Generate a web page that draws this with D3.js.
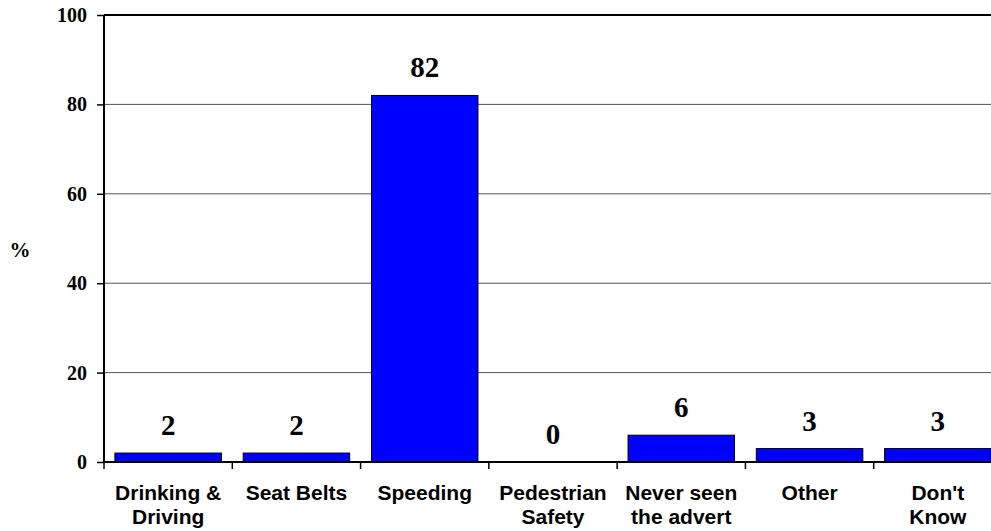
<!DOCTYPE html>
<html>
<head>
<meta charset="UTF-8" />
<title>Advert recall</title>
<script src="https://d3js.org/d3.v7.min.js"></script>
<style>
body { margin: 0; background: #fff; }
.val { font-family: "Liberation Serif", "Times New Roman", serif; font-weight: bold; font-size: 29px; }
.ytick text { font-family: "Liberation Serif", "Times New Roman", serif; font-weight: bold; font-size: 20px; }
.cat { font-family: "Liberation Sans", Arial, sans-serif; font-weight: bold; font-size: 21px; }
</style>
</head>
<body>
<div id="chart"></div>
<script>
var categories = [
    ["Drinking &", "Driving"],
    ["Seat Belts"],
    ["Speeding"],
    ["Pedestrian", "Safety"],
    ["Never seen", "the advert"],
    ["Other"],
    ["Don't", "Know"]
];
var values = [2, 2, 82, 0, 6, 3, 3];
var yTicks = [0, 20, 40, 60, 80, 100];

var width = 991, height = 531;
var plotLeft = 104, plotRight = 1002, plotTop = 15, plotBottom = 462;

var svg = d3.select('#chart')
    .append('svg')
    .attr('width', width)
    .attr('height', height);

var x = d3.scaleBand()
    .domain(d3.range(values.length))
    .range([plotLeft, plotRight])
    .paddingInner(0.17)
    .paddingOuter(0.085);

var y = d3.scaleLinear()
    .domain([0, 100])
    .range([plotBottom, plotTop]);

// gridlines
svg.append('g')
    .selectAll('line')
    .data(yTicks.filter(function(d) { return d > 0 && d < 100; }))
    .enter().append('line')
    .attr('x1', plotLeft).attr('x2', width)
    .attr('y1', function(d) { return y(d); })
    .attr('y2', function(d) { return y(d); })
    .attr('stroke', '#555')
    .attr('stroke-width', 1);

// top border
svg.append('line')
    .attr('x1', plotLeft).attr('x2', width)
    .attr('y1', y(100)).attr('y2', y(100))
    .attr('stroke', '#000').attr('stroke-width', 2);

// bars
svg.append('g')
    .selectAll('rect')
    .data(values)
    .enter().append('rect')
    .attr('x', function(d, i) { return x(i); })
    .attr('width', x.bandwidth())
    .attr('y', function(d) { return y(d); })
    .attr('height', function(d) { return y(0) - y(d); })
    .attr('fill', '#0000ff')
    .attr('stroke', '#000')
    .attr('stroke-width', 1);

// value labels
svg.append('g')
    .selectAll('text')
    .data(values)
    .enter().append('text')
    .attr('class', 'val')
    .attr('x', function(d, i) { return x(i) + x.bandwidth() / 2; })
    .attr('y', function(d) { return y(d) - 18; })
    .attr('text-anchor', 'middle')
    .text(function(d) { return d; });

// y axis
var yAxis = d3.axisLeft(y).tickValues(yTicks).tickSize(7).tickPadding(10);
var yg = svg.append('g')
    .attr('class', 'ytick')
    .attr('transform', 'translate(' + plotLeft + ',0)')
    .call(yAxis);
yg.select('.domain').attr('stroke-width', 2).attr('d', 'M0,' + plotTop + 'V' + plotBottom);
yg.selectAll('.tick line').attr('stroke-width', 1.5);

// x axis with ticks between categories
var step = x.step();
var xTickPos = d3.range(values.length).map(function(i) { return plotLeft + i * step; });
svg.append('line')
    .attr('x1', plotLeft).attr('x2', width)
    .attr('y1', plotBottom).attr('y2', plotBottom)
    .attr('stroke', '#000').attr('stroke-width', 2);
svg.append('g')
    .selectAll('line')
    .data(xTickPos)
    .enter().append('line')
    .attr('x1', function(d) { return d; }).attr('x2', function(d) { return d; })
    .attr('y1', plotBottom).attr('y2', plotBottom + 7)
    .attr('stroke', '#000').attr('stroke-width', 1.5);

// category labels
var cat = svg.append('g')
    .selectAll('text')
    .data(categories)
    .enter().append('text')
    .attr('class', 'cat')
    .attr('text-anchor', 'middle')
    .attr('x', function(d, i) { return x(i) + x.bandwidth() / 2; })
    .attr('y', 500);
cat.selectAll('tspan')
    .data(function(d) { return d; })
    .enter().append('tspan')
    .attr('x', function() { return d3.select(this.parentNode).attr('x'); })
    .attr('dy', function(d, i) { return i === 0 ? 0 : 24; })
    .text(function(d) { return d; });

// y label
svg.append('text')
    .attr('class', 'val')
    .style('font-size', '21px')
    .attr('x', 20)
    .attr('y', 257)
    .attr('text-anchor', 'middle')
    .text('%');
</script>
</body>
</html>
